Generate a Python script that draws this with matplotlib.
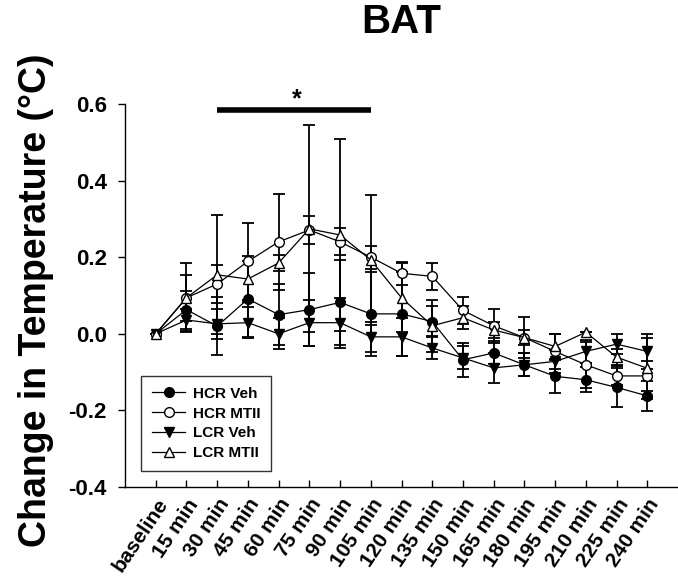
import numpy as np
import matplotlib
matplotlib.use('Agg')
import matplotlib.pyplot as plt
from matplotlib.lines import Line2D

plt.rcParams['font.family'] = ['Liberation Sans', 'DejaVu Sans']
plt.rcParams['font.weight'] = 'bold'

# time points
labels = ['baseline', '15 min', '30 min', '45 min', '60 min', '75 min', '90 min',
          '105 min', '120 min', '135 min', '150 min', '165 min', '180 min',
          '195 min', '210 min', '225 min', '240 min']

# mean change in temperature (°C) and error
hcr_veh = [0, 0.063, 0.02, 0.091, 0.05, 0.063, 0.082, 0.052, 0.052, 0.032,
           -0.068, -0.05, -0.081, -0.111, -0.12, -0.14, -0.162]
hcr_veh_err = [0, 0.05, 0.075, 0.1, 0.08, 0.096, 0.11, 0.11, 0.11, 0.04,
               0.045, 0.03, 0.03, 0.043, 0.033, 0.05, 0.04]

hcr_mtii = [0, 0.094, 0.13, 0.189, 0.24, 0.271, 0.24, 0.2, 0.158, 0.15,
            0.061, 0.021, -0.01, -0.046, -0.081, -0.11, -0.11]
hcr_mtii_err = [0, 0.09, 0.05, 0.1, 0.125, 0.037, 0.035, 0.03, 0.03, 0.036,
                0.036, 0.044, 0.053, 0.046, 0.06, 0.025, 0.04]

lcr_veh = [0, 0.036, 0.026, 0.029, 0.0, 0.029, 0.029, -0.008, -0.008, -0.037,
           -0.063, -0.089, -0.081, -0.072, -0.046, -0.027, -0.046]
lcr_veh_err = [0, 0.03, 0.04, 0.04, 0.04, 0.06, 0.065, 0.04, 0.05, 0.03,
               0.03, 0.04, 0.03, 0.03, 0.03, 0.027, 0.046]

lcr_mtii = [0, 0.094, 0.154, 0.143, 0.185, 0.274, 0.258, 0.193, 0.094, 0.021,
            0.042, 0.01, -0.01, -0.033, 0.004, -0.061, -0.09]
lcr_mtii_err = [0, 0.06, 0.155, 0.06, 0.02, 0.27, 0.25, 0.17, 0.09, 0.068,
                0.03, 0.02, 0.02, 0.033, 0.0, 0.02, 0.08]

# significance bar (30 min -> 105 min)
sig_start, sig_end, sig_y = 2, 7, 0.585

fig = plt.figure(figsize=(6.78, 5.79), dpi=100)
ax = fig.add_axes([0.1844, 0.1589, 0.8156, 0.6615])

x = np.arange(len(labels))
series = [
    ('HCR Veh', hcr_veh, hcr_veh_err, 'o', 'black'),
    ('HCR MTII', hcr_mtii, hcr_mtii_err, 'o', 'white'),
    ('LCR Veh', lcr_veh, lcr_veh_err, 'v', 'black'),
    ('LCR MTII', lcr_mtii, lcr_mtii_err, '^', 'white'),
]

handles = []
for name, y, err, m, fc in series:
    ax.errorbar(x, y, yerr=err, fmt='none', ecolor='black', elinewidth=1.3,
                capsize=4, capthick=1.3, zorder=2)
    ax.plot(x, y, color='black', linewidth=0.9, marker=m, markersize=7,
            markerfacecolor=fc, markeredgecolor='black', markeredgewidth=1,
            zorder=3)
    handles.append(Line2D([0], [0], color='black', linewidth=0.9, marker=m,
                          markersize=7, markerfacecolor=fc,
                          markeredgecolor='black', label=name))

ax.plot([sig_start, sig_end], [sig_y, sig_y], color='black', linewidth=4,
        solid_capstyle='butt', clip_on=False)
ax.text((sig_start + sig_end) / 2 + 0.1, sig_y - 0.004, '*', ha='center',
        va='bottom', fontsize=18, fontweight='bold')

ax.set_xlim(-1, 17)
ax.set_ylim(-0.4, 0.6)
ax.set_yticks([-0.4, -0.2, 0.0, 0.2, 0.4, 0.6])
ax.set_yticklabels(['-0.4', '-0.2', '0.0', '0.2', '0.4', '0.6'])
ax.set_xticks(x)
ax.set_xticklabels(labels, rotation=56, ha='right', rotation_mode='anchor')

ax.spines['top'].set_visible(False)
ax.spines['right'].set_visible(False)
for s in ['left', 'bottom']:
    ax.spines[s].set_linewidth(1)
ax.tick_params(axis='y', direction='out', length=5, labelsize=16, width=1, pad=8)
ax.tick_params(axis='x', direction='in', length=5, labelsize=15, width=1, pad=6)
for t in ax.get_xticklabels() + ax.get_yticklabels():
    t.set_fontweight('bold')

leg = ax.legend(handles=handles, loc='lower left', bbox_to_anchor=(0.029, 0.042),
                borderaxespad=0, frameon=True, fancybox=False, handlelength=2.2,
                handletextpad=0.5, prop={'weight': 'bold', 'size': 11},
                labelspacing=0.38, borderpad=0.7)
leg.get_frame().set_edgecolor('black')
leg.get_frame().set_linewidth(1)

fig.text(0.592, 0.962, 'BAT', ha='center', va='center', fontsize=29,
         fontweight='bold')
fig.text(0.053, 0.482, 'Change in Temperature (°C)', ha='center', va='center',
         rotation=90, fontsize=27, fontweight='bold')

fig.savefig('out.png', dpi=100)
